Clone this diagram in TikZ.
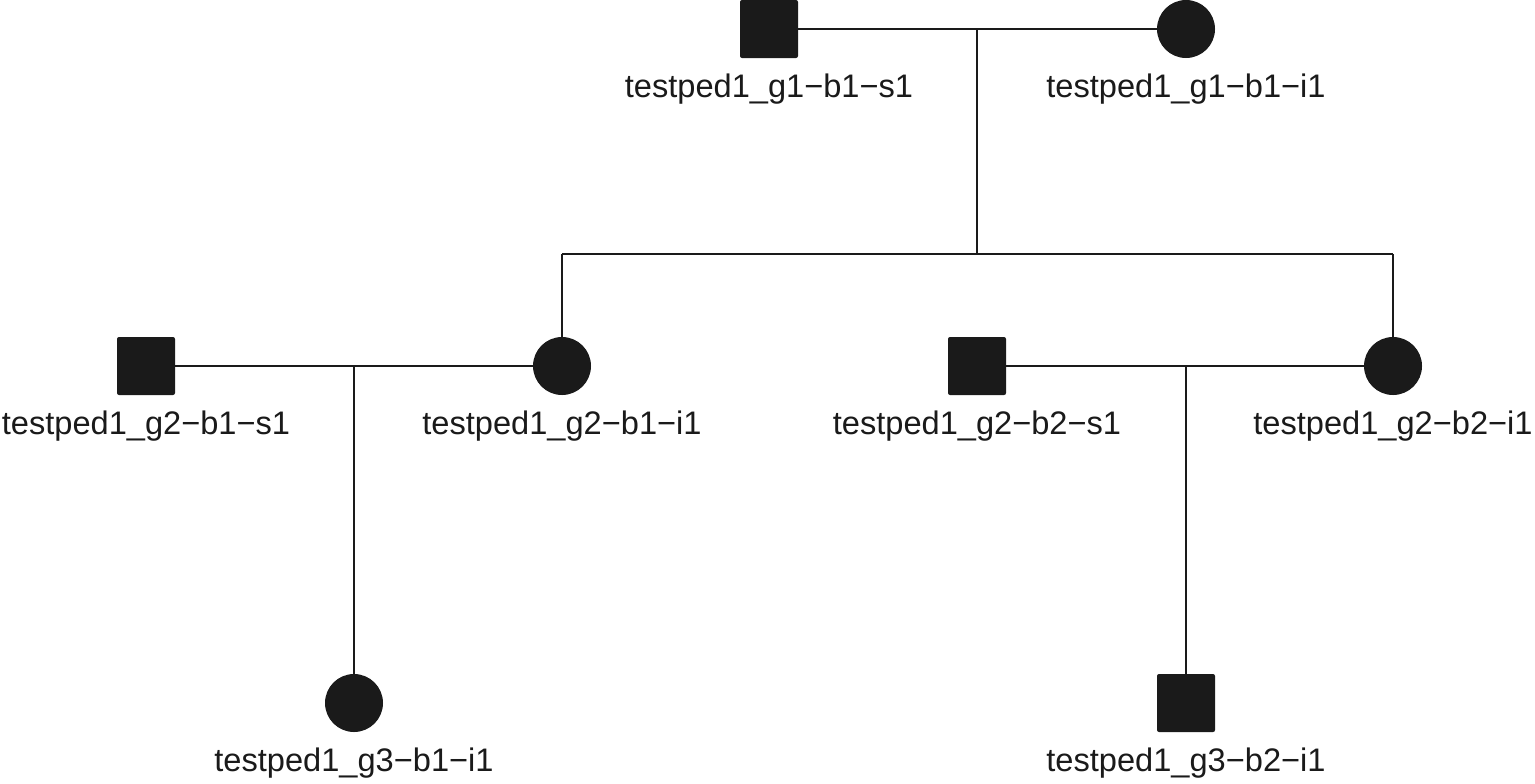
\documentclass[tikz,border=0pt]{standalone}
\usepackage{fontspec}
\setmainfont{Liberation Sans}
\definecolor{ink}{HTML}{1A1A1A}
\begin{document}
\begin{tikzpicture}[x=0.5pt,y=-0.5pt,
  male/.style={rectangle,minimum size=29pt,inner sep=0pt,fill=ink,rounded corners=1pt},
  female/.style={circle,minimum size=29pt,inner sep=0pt,fill=ink},
  lbl/.style={anchor=base,inner sep=0pt,font=\fontsize{16.3pt}{19pt}\selectfont,text=ink},
  link/.style={draw=ink,line width=1.4pt}]
\useasboundingbox (0,0) rectangle (1535,783);
% generation 1
\node[male] (a) at (769,29) {};
\node[female] (b) at (1186,29) {};
% generation 2
\node[male] (c) at (146,366) {};
\node[female] (d) at (562,366) {};
\node[male] (e) at (977,366) {};
\node[female] (f) at (1393,366) {};
% generation 3
\node[female] (g) at (354,703) {};
\node[male] (h) at (1186,703) {};
% labels
\node[lbl] (la) at (769,97) {testped1\_g1−b1−s1};
\node[lbl] (lb) at (1186,97) {testped1\_g1−b1−i1};
\node[lbl] (lc) at (146,434) {testped1\_g2−b1−s1};
\node[lbl] (ld) at (562,434) {testped1\_g2−b1−i1};
\node[lbl] (le) at (977,434) {testped1\_g2−b2−s1};
\node[lbl] (lf) at (1393,434) {testped1\_g2−b2−i1};
\node[lbl] (lg) at (354,771) {testped1\_g3−b1−i1};
\node[lbl] (lh) at (1186,771) {testped1\_g3−b2−i1};
% coordinates
\coordinate (m1) at (977,29);
\coordinate (s1) at (977,254);
\coordinate (s1l) at (562,254);
\coordinate (s1r) at (1393,254);
\coordinate (m2) at (354,366);
\coordinate (m3) at (1186,366);
% connectors
\draw[link] (a.east) -- (b.west);
\draw[link] (m1) -- (s1);
\draw[link] (s1l) -- (s1r);
\draw[link] (s1l) -- (d.north);
\draw[link] (s1r) -- (f.north);
\draw[link] (c.east) -- (d.west);
\draw[link] (e.east) -- (f.west);
\draw[link] (m2) -- (g.north);
\draw[link] (m3) -- (h.north);
\end{tikzpicture}
\end{document}
